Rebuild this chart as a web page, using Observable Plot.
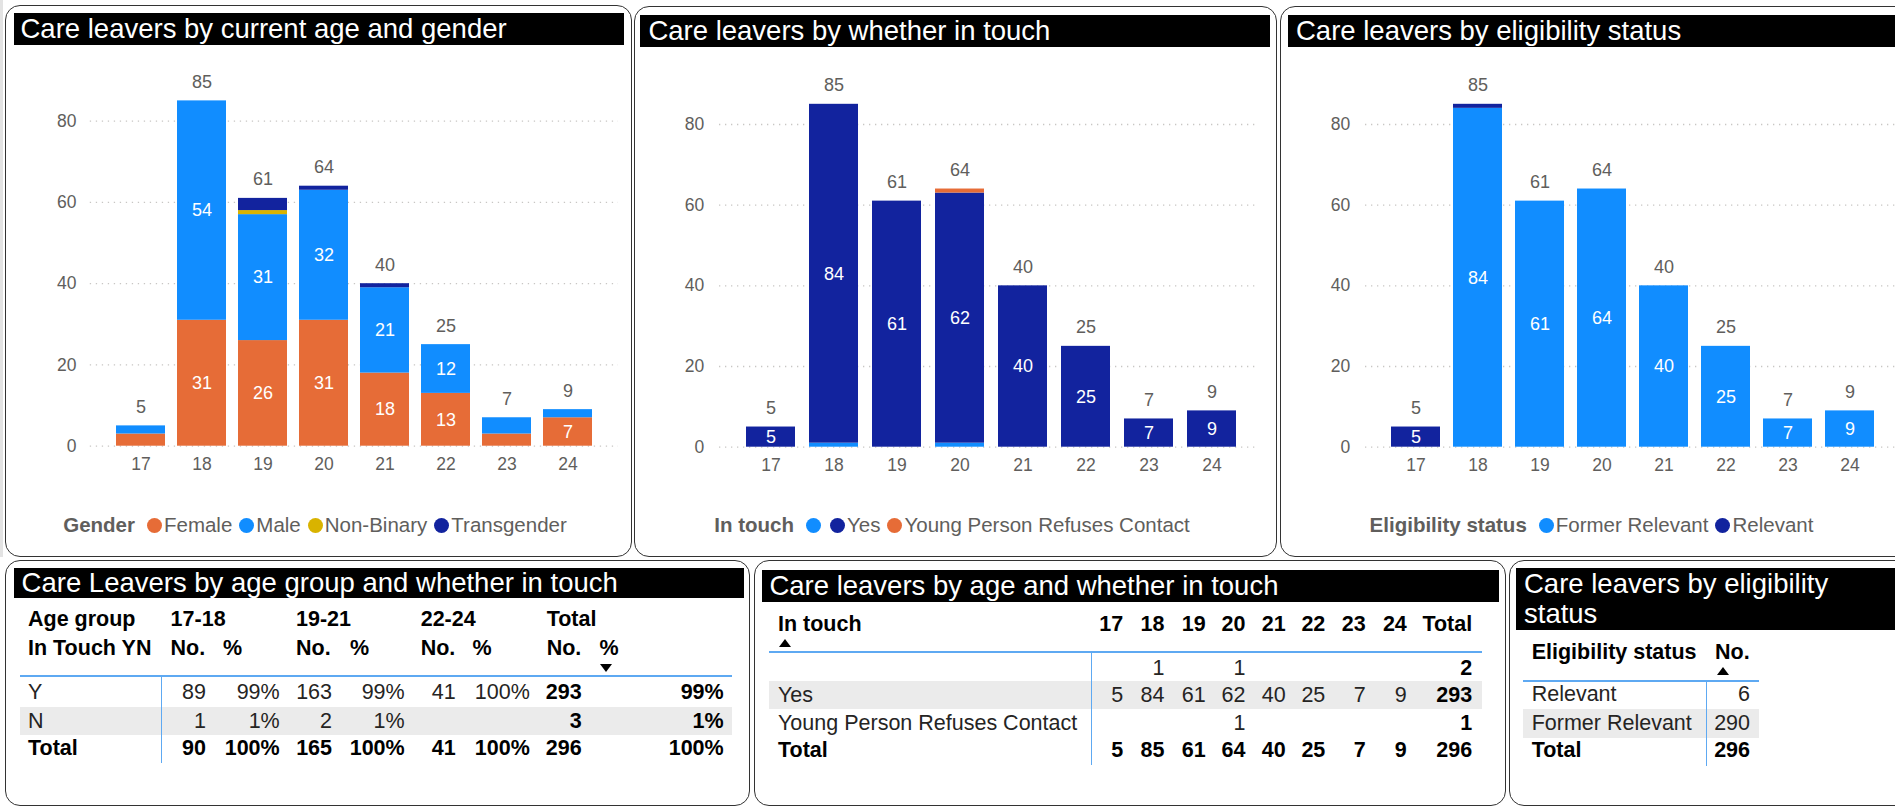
<!DOCTYPE html>
<html>
<head>
<meta charset="utf-8">
<script src="https://cdn.jsdelivr.net/npm/d3@7"></script>
<script src="https://cdn.jsdelivr.net/npm/@observablehq/plot@0.6"></script>
<style>
  html, body { margin: 0; padding: 0; }
  body { width: 1895px; height: 808px; overflow: hidden; position: relative; background: #fff;
         font-family: "Liberation Sans", Arial, sans-serif; }
  .abs { position: absolute; }
  .panel { position: absolute; box-sizing: border-box; border: 1.8px solid #333; border-radius: 15px; background: #fff; }
  .title { position: absolute; box-sizing: border-box; background: #000; color: #fff; font-size: 27.5px; white-space: nowrap; overflow: hidden; }
  .legend { position: absolute; display: flex; justify-content: center; align-items: center; font-size: 20.5px; color: #605E5C; white-space: nowrap; }
  .legend b { margin-right: 12px; }
  .legend .dot { display: inline-block; width: 15px; height: 15px; border-radius: 50%; margin-right: 2px; }
  .legend .lab { margin-right: 7px; }
  .cell { position: absolute; font-size: 21.5px; line-height: 26px; height: 26px; white-space: nowrap; color: #252423; }
</style>
</head>
<body>
<script>
// ---------------- DATA ----------------
const ages = ["17", "18", "19", "20", "21", "22", "23", "24"];
const yTicks = [0, 20, 40, 60, 80];

// Chart 1: gender
const genders = ["Female", "Male", "Non-Binary", "Transgender"];
const female      = [3, 31, 26, 31, 18, 13, 3, 7];
const male        = [2, 54, 31, 32, 21, 12, 4, 2];
const nonBinary   = [0, 0, 1, 0, 0, 0, 0, 0];
const transgender = [0, 0, 3, 1, 1, 0, 0, 0];

// Chart 2: in touch
const touchCats     = ["", "Yes", "Young Person Refuses Contact"];
const touchBlank    = [0, 1, 0, 1, 0, 0, 0, 0];
const touchYes      = [5, 84, 61, 62, 40, 25, 7, 9];
const touchRefuses  = [0, 0, 0, 1, 0, 0, 0, 0];

// Chart 3: eligibility
const eligCats       = ["Former Relevant", "Relevant"];
const formerRelevant = [0, 84, 61, 64, 40, 25, 7, 9];
const relevant       = [5, 1, 0, 0, 0, 0, 0, 0];

// Table 1: age group x in touch
const ageGroups  = ["17-18", "19-21", "22-24", "Total"];
const inTouchYN  = ["Y", "N"];
const groupY     = [89, 163, 41, 293];
const groupN     = [1, 2, null, 3];

// Table 3: eligibility totals
const eligRows   = ["Relevant", "Former Relevant"];
const eligCounts = [6, 290];

// ---------------- STYLE / LAYOUT ----------------
const colGender = ["#E66C37", "#118DFF", "#D9B300", "#12239E"];
const colTouch  = ["#118DFF", "#12239E", "#E66C37"];
const colElig   = ["#118DFF", "#12239E"];
const gray = "#605E5C";

function el(tag, cls, css, text) {
  const e = document.createElement(tag);
  if (cls) e.className = cls;
  if (css) Object.assign(e.style, css);
  if (text != null) e.textContent = text;
  document.body.appendChild(e);
  return e;
}
const px = v => v + "px";

// left grey strip
el("div", "abs", {left: "0px", top: "0px", width: "3px", height: "557px", background: "#e3e3e3"});

// panels
const panels = [
  [5, 5, 632, 557], [634, 6, 1277, 557], [1280, 6, 1912, 557],
  [5, 560, 750, 806], [754, 560, 1506, 806], [1509, 560, 1912, 806]
];
panels.forEach(([l, t, r, b]) => el("div", "panel", {left: px(l), top: px(t), width: px(r - l), height: px(b - t)}));

// titles
const titles = [
  {text: "Care leavers by current age and gender", l: 13.5, t: 13, w: 610.5, h: 32, pad: 7},
  {text: "Care leavers by whether in touch", l: 640.4, t: 15, w: 630, h: 32, pad: 8},
  {text: "Care leavers by eligibility status", l: 1288, t: 15, w: 620, h: 32, pad: 8},
  {text: "Care Leavers by age group and whether in touch", l: 13.6, t: 567.7, w: 730.4, h: 30.6, pad: 8},
  {text: "Care leavers by age and whether in touch", l: 762, t: 570, w: 737, h: 31.7, pad: 7.4},
  {text: "Care leavers by eligibility status", l: 1516, t: 567.7, w: 390, h: 62.3, pad: 8, wrap: 340}
];
titles.forEach(o => {
  const d = el("div", "title", {left: px(o.l), top: px(o.t), width: px(o.w), height: px(o.h),
    paddingLeft: px(o.pad), lineHeight: o.wrap ? "30px" : px(o.h)});
  if (o.wrap) {
    const s = document.createElement("div");
    Object.assign(s.style, {width: px(o.wrap), whiteSpace: "normal", lineHeight: "30px", marginTop: "1px"});
    s.textContent = o.text;
    d.appendChild(s);
  } else d.textContent = o.text;
});

// ---------------- CHARTS ----------------
function stackChart(cfg) {
  const rows = [];
  cfg.cats.forEach((c, ci) => ages.forEach((a, ai) => rows.push({age: a, cat: c, value: cfg.series[ci][ai]})));
  const totals = ages.map((a, ai) => ({age: a, total: d3.sum(cfg.series, s => s[ai])}));
  const chart = Plot.plot({
    width: cfg.width, height: cfg.height,
    marginLeft: cfg.mL, marginRight: cfg.mR, marginTop: 0, marginBottom: cfg.height - cfg.y0,
    style: {fontFamily: '"Liberation Sans", Arial, sans-serif', fontSize: "17.5px", color: gray, background: "transparent", overflow: "visible"},
    x: {domain: ages, range: [cfg.xStart, cfg.xEnd], paddingInner: cfg.pInner, paddingOuter: 0.2,
        tickSize: 0, tickPadding: cfg.tpx, label: null},
    y: {domain: [0, 90], range: [cfg.y0, cfg.y0 - 90 * cfg.k], ticks: yTicks, tickSize: 0, tickPadding: cfg.tpy, label: null},
    color: {domain: cfg.cats, range: cfg.colors},
    marks: [
      Plot.ruleY(yTicks, {stroke: "#c8c6c4", strokeWidth: 1.3, strokeDasharray: "1.3,4.7"}),
      Plot.barY(rows, Plot.stackY({x: "age", y: "value", fill: "cat", order: cfg.cats})),
      Plot.text(rows, Plot.stackY({x: "age", y: "value", z: "cat", order: cfg.cats,
        text: d => d.value >= 5 ? String(d.value) : "", fill: "white", fontSize: 18})),
      Plot.text(totals, {x: "age", y: "total", text: "total", dy: -18.7, fill: gray, fontSize: 18})
    ]
  });
  const holder = el("div", "abs", {left: px(cfg.left), top: px(cfg.top), width: px(cfg.width), height: px(cfg.height)});
  holder.appendChild(chart);

  // legend
  const lg = el("div", "legend", {left: px(cfg.pl), width: px(cfg.pw), top: "512px", height: "26px"});
  const b = document.createElement("b"); b.textContent = cfg.legendTitle; lg.appendChild(b);
  cfg.cats.forEach((c, i) => {
    const dot = document.createElement("span"); dot.className = "dot"; dot.style.background = cfg.colors[i]; lg.appendChild(dot);
    const lab = document.createElement("span"); lab.className = "lab"; lab.textContent = c; lg.appendChild(lab);
  });
}

stackChart({left: 5, top: 50, width: 627, height: 440, y0: 395.7, k: 4.0625, xStart: 98.3, xEnd: 600,
  pInner: 0.2, mL: 84.8, mR: 14, tpy: 13.9, tpx: 11,
  cats: genders, colors: colGender, series: [female, male, nonBinary, transgender],
  legendTitle: "Gender", pl: 5, pw: 627});

stackChart({left: 634, top: 50, width: 643, height: 440, y0: 396.7, k: 4.034, xStart: 97.3, xEnd: 617.2,
  pInner: 0.218, mL: 85, mR: 19, tpy: 15.2, tpx: 11.6,
  cats: touchCats, colors: colTouch, series: [touchBlank, touchYes, touchRefuses],
  legendTitle: "In touch", pl: 634, pw: 643});

stackChart({left: 1280, top: 50, width: 615, height: 440, y0: 396.7, k: 4.034, xStart: 98, xEnd: 606.3,
  pInner: 0.21, mL: 85, mR: 0, tpy: 15.2, tpx: 11.6,
  cats: eligCats, colors: colElig, series: [formerRelevant, relevant],
  legendTitle: "Eligibility status", pl: 1280, pw: 630});

// ---------------- TABLES ----------------
function cell(text, x, yc, opt = {}) {
  const css = {top: px(yc - 13)};
  if (opt.right) { css.left = px(x - 300); css.width = "300px"; css.textAlign = "right"; }
  else css.left = px(x);
  if (opt.bold) { css.fontWeight = "bold"; css.color = "#000"; }
  if (opt.color) css.color = opt.color;
  return el("div", "cell", css, text);
}
function hline(x1, x2, y, h, color) { el("div", "abs", {left: px(x1), top: px(y), width: px(x2 - x1), height: px(h), background: color}); }
function vline(x, y1, y2, color) { el("div", "abs", {left: px(x), top: px(y1), width: "1.3px", height: px(y2 - y1), background: color}); }
function arrow(x, y, up) {
  el("div", "abs", {left: px(x - 6), top: px(y - 4), width: "0px", height: "0px",
    borderLeft: "6px solid transparent", borderRight: "6px solid transparent",
    [up ? "borderBottom" : "borderTop"]: "8px solid #000"});
}
const blue = "#5ea9f2";
const band = "#ebebeb";
const pct = (a, b) => a == null ? "" : Math.round(100 * a / b) + "%";
const num = v => (v == null || v === 0) ? "" : String(v);

// Table 1
(function () {
  const hx = [170.6, 223, 296, 350, 420.7, 472.6, 546.7, 599.6];   // header left positions
  const vr = [206, 279.7, 332, 404.7, 455.6, 529.8, 581.6, 723.7]; // value right edges
  const yH1 = 619, yH2 = 648.3, yR = [692, 720.5], yT = 748;
  hline(20.4, 732, 706.5, 28, band);
  cell("Age group", 28, yH1, {bold: true});
  cell("In Touch YN", 28, yH2, {bold: true});
  ageGroups.forEach((g, i) => {
    cell(g, hx[2 * i], yH1, {bold: true});
    cell("No.", hx[2 * i], yH2, {bold: true});
    cell("%", hx[2 * i + 1], yH2, {bold: true});
  });
  arrow(606, 668, false);
  hline(20.4, 732, 675, 2, blue);
  vline(160.5, 676, 763, blue);
  const vals = [groupY, groupN];
  const tot = groupY.map((v, i) => v + (groupN[i] || 0));
  inTouchYN.forEach((r, ri) => {
    cell(r, 28, yR[ri]);
    ageGroups.forEach((g, i) => {
      const isTot = i === ageGroups.length - 1;
      cell(num(vals[ri][i]), vr[2 * i], yR[ri], {right: true, bold: isTot});
      cell(pct(vals[ri][i], tot[i]), vr[2 * i + 1], yR[ri], {right: true, bold: isTot});
    });
  });
  cell("Total", 28, yT, {bold: true});
  ageGroups.forEach((g, i) => {
    cell(String(tot[i]), vr[2 * i], yT, {right: true, bold: true});
    cell(pct(tot[i], tot[i]), vr[2 * i + 1], yT, {right: true, bold: true});
  });
})();

// Table 2
(function () {
  const colR = [1123.2, 1164.4, 1205.6, 1245.4, 1285.6, 1325.3, 1365.6, 1406.8];
  const totR = 1472.2;
  const yH = 624, yR = [667.5, 695, 722.8], yT = 750;
  hline(769, 1482, 681, 27.5, band);
  cell("In touch", 778, yH, {bold: true});
  arrow(785, 642.5, true);
  ages.forEach((a, i) => cell(a, colR[i], yH, {right: true, bold: true}));
  cell("Total", totR, yH, {right: true, bold: true});
  hline(769, 1482, 651, 2, blue);
  vline(1091, 652, 765, blue);
  const series = [touchBlank, touchYes, touchRefuses];
  touchCats.forEach((c, ri) => {
    cell(c, 778, yR[ri]);
    ages.forEach((a, i) => cell(num(series[ri][i]), colR[i], yR[ri], {right: true}));
    cell(String(d3.sum(series[ri])), totR, yR[ri], {right: true, bold: true});
  });
  cell("Total", 778, yT, {bold: true});
  ages.forEach((a, i) => cell(String(d3.sum(series, s => s[i])), colR[i], yT, {right: true, bold: true}));
  cell(String(d3.sum(series, s => d3.sum(s))), totR, yT, {right: true, bold: true});
})();

// Table 3
(function () {
  const yH = 651.7, yR = [694, 722.8], yT = 750, vr = 1750;
  hline(1523.3, 1759.3, 709, 28.7, band);
  cell("Eligibility status", 1531.7, yH, {bold: true});
  cell("No.", 1715, yH, {bold: true});
  arrow(1722.7, 671, true);
  hline(1523.3, 1759.3, 679.5, 2, blue);
  vline(1705.5, 680, 765.7, blue);
  eligRows.forEach((r, i) => {
    cell(r, 1531.7, yR[i]);
    cell(String(eligCounts[i]), vr, yR[i], {right: true});
  });
  cell("Total", 1531.7, yT, {bold: true});
  cell(String(d3.sum(eligCounts)), vr, yT, {right: true, bold: true});
})();
</script>
</body>
</html>
